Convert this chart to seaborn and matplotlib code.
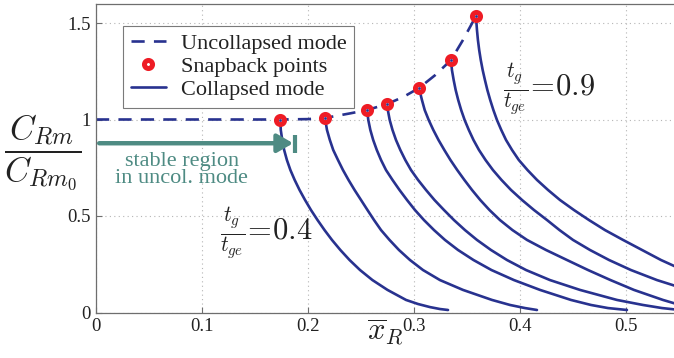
import numpy as np
import pandas as pd
import matplotlib
matplotlib.use("Agg")
import matplotlib.pyplot as plt
import seaborn as sns
from matplotlib.lines import Line2D

# ---------------- data ----------------
# uncollapsed mode (dashed curve)
unc_x = [0.0, 0.10, 0.174, 0.200, 0.216, 0.240, 0.2557, 0.2745, 0.290, 0.3047, 0.320, 0.3349, 0.346, 0.3585]
unc_y = [1.0, 1.0, 1.0, 1.002, 1.008, 1.032, 1.049, 1.080, 1.117, 1.163, 1.230, 1.308, 1.410, 1.536]

# snapback points
snap_x = [0.174, 0.216, 0.2557, 0.2745, 0.3047, 0.3349, 0.3585]
snap_y = [1.0, 1.008, 1.049, 1.080, 1.163, 1.308, 1.536]

# collapsed mode curves (t_g/t_ge from 0.4 to 0.9)
c1_x = [0.174, 0.1743, 0.1757, 0.1775, 0.1801, 0.1834, 0.1874, 0.1920, 0.1972, 0.2028, 0.2090, 0.2156,
        0.2226, 0.2305, 0.2392, 0.2491, 0.2608, 0.2750, 0.2925, 0.3038, 0.3151, 0.3245, 0.3321]
c1_y = [1.0, 0.946, 0.894, 0.842, 0.790, 0.738, 0.687, 0.635, 0.583, 0.531, 0.479, 0.427,
        0.376, 0.324, 0.272, 0.220, 0.168, 0.117, 0.065, 0.044, 0.028, 0.018, 0.013]

c2_x = [0.2160, 0.2179, 0.2206, 0.2238, 0.2283, 0.2330, 0.2382, 0.2439, 0.2500, 0.2561, 0.2623,
        0.2689, 0.2769, 0.2858, 0.2962, 0.3085, 0.3245, 0.3462, 0.3736, 0.3906, 0.4047, 0.4160]
c2_y = [1.008, 0.946, 0.894, 0.842, 0.790, 0.738, 0.687, 0.635, 0.583, 0.531, 0.479,
        0.427, 0.376, 0.324, 0.272, 0.220, 0.168, 0.117, 0.065, 0.039, 0.023, 0.013]

c3_x = [0.2557, 0.2569, 0.2588, 0.2615, 0.2649, 0.2689, 0.2736, 0.2797, 0.2863, 0.2934, 0.3009, 0.3094,
        0.3189, 0.3292, 0.3415, 0.3561, 0.3731, 0.3943, 0.4189, 0.4481, 0.4670, 0.4830, 0.5009]
c3_y = [1.049, 0.997, 0.946, 0.894, 0.842, 0.790, 0.738, 0.687, 0.635, 0.583, 0.531, 0.479,
        0.427, 0.376, 0.324, 0.272, 0.220, 0.168, 0.117, 0.065, 0.039, 0.023, 0.013]

c4_x = [0.2745, 0.2753, 0.2771, 0.2797, 0.2830, 0.2871, 0.2918, 0.2972, 0.3038, 0.3113, 0.3193, 0.3283,
        0.3377, 0.3481, 0.3594, 0.3726, 0.3877, 0.4057, 0.4283, 0.4566, 0.4915, 0.5160, 0.5340, 0.5509]
c4_y = [1.080, 1.049, 0.997, 0.946, 0.894, 0.842, 0.790, 0.738, 0.687, 0.635, 0.583, 0.531,
        0.479, 0.427, 0.376, 0.324, 0.272, 0.220, 0.168, 0.117, 0.065, 0.039, 0.023, 0.013]

c5_x = [0.3047, 0.3075, 0.3101, 0.3139, 0.3182, 0.3231, 0.3286, 0.3344, 0.3408, 0.3475, 0.3547, 0.3625,
        0.3712, 0.3811, 0.3929, 0.4066, 0.4245, 0.4443, 0.4642, 0.4854, 0.5075, 0.5349, 0.5509]
c5_y = [1.163, 1.101, 1.049, 0.997, 0.946, 0.894, 0.842, 0.790, 0.738, 0.687, 0.635, 0.583,
        0.531, 0.479, 0.427, 0.376, 0.324, 0.272, 0.220, 0.168, 0.117, 0.065, 0.039]

c6_x = [0.3349, 0.3358, 0.3374, 0.3393, 0.3417, 0.3445, 0.3478, 0.3517, 0.3561, 0.3613, 0.3675, 0.3745,
        0.3825, 0.3915, 0.4019, 0.4132, 0.4255, 0.4373, 0.4500, 0.4660, 0.4840, 0.5047, 0.5292, 0.5585]
c6_y = [1.308, 1.256, 1.205, 1.153, 1.101, 1.049, 0.997, 0.946, 0.894, 0.842, 0.790, 0.738,
        0.687, 0.635, 0.583, 0.531, 0.479, 0.427, 0.376, 0.324, 0.272, 0.220, 0.168, 0.117]

c7_x = [0.3585, 0.3587, 0.3594, 0.3603, 0.3615, 0.3630, 0.3648, 0.3669, 0.3692, 0.3719, 0.3749, 0.3783,
        0.3823, 0.3868, 0.3925, 0.3989, 0.4071, 0.4160, 0.4264, 0.4377, 0.4509, 0.4651, 0.4802, 0.4972,
        0.5151, 0.5330, 0.5538]
c7_y = [1.536, 1.516, 1.464, 1.412, 1.360, 1.308, 1.256, 1.205, 1.153, 1.101, 1.049, 0.997,
        0.946, 0.894, 0.842, 0.790, 0.738, 0.687, 0.635, 0.583, 0.531, 0.479, 0.427, 0.376,
        0.324, 0.272, 0.220]

col_x = [c1_x, c2_x, c3_x, c4_x, c5_x, c6_x, c7_x]
col_y = [c1_y, c2_y, c3_y, c4_y, c5_y, c6_y, c7_y]

x_ticks = [0, 0.1, 0.2, 0.3, 0.4, 0.5]
x_ticklabels = ["0", "0.1", "0.2", "0.3", "0.4", "0.5"]
y_ticks = [0, 0.5, 1.0, 1.5]
y_ticklabels = ["0", "0.5", "1", "1.5"]

legend_labels = ["Uncollapsed mode", "Snapback points", "Collapsed mode"]

# annotation positions
arrow_y = 0.877
arrow_x0, arrow_x1 = 0.003, 0.186
bar_x, bar_y0, bar_y1 = 0.1877, 0.826, 0.920

# ---------------- style ----------------
sns.set_style("ticks")
plt.rcParams["font.family"] = ["Liberation Serif", "DejaVu Serif"]
plt.rcParams["mathtext.fontset"] = "cm"

blue = "#28328f"
red = "#ee1c25"
teal = "#4e8b83"
grey = "#6e6e6e"
txt = "#222222"

fig = plt.figure(figsize=(6.74, 3.58), dpi=100)
ax = fig.add_axes([96 / 674, 45.5 / 358, 583 / 674, 308.8 / 358])

ax.set_axisbelow(True)
ax.grid(True, color="#b5b5b5", linestyle=(0, (1, 3)), linewidth=0.8)

# collapsed curves
for cx, cy in zip(col_x, col_y):
    sns.lineplot(x=cx, y=cy, ax=ax, color=blue, linewidth=1.9, sort=False,
                 estimator=None, legend=False, zorder=2)

# uncollapsed dashed curve
sns.lineplot(x=unc_x, y=unc_y, ax=ax, color=blue, linewidth=1.9, sort=False,
             estimator=None, legend=False, zorder=2, linestyle=(0, (5, 3.5)))

# snapback points
sns.scatterplot(x=snap_x, y=snap_y, ax=ax, marker="o", s=5.8 ** 2, color="white",
                edgecolor=red, linewidth=3.6, zorder=4, legend=False)
sns.scatterplot(x=snap_x, y=snap_y, ax=ax, marker="o", s=4, color=blue,
                linewidth=0, zorder=5, legend=False)

ax.set_xlim(0, 0.55)
ax.set_ylim(0, 1.6)
ax.set_xticks(x_ticks)
ax.set_xticklabels(x_ticklabels)
ax.set_yticks(y_ticks)
ax.set_yticklabels(y_ticklabels)
ax.tick_params(direction="in", length=4, width=0.8, color=grey, labelsize=13.5,
               labelcolor=txt, pad=4)
for s in ["left", "bottom", "top", "right"]:
    ax.spines[s].set_color(grey)
    ax.spines[s].set_linewidth(0.9)
    ax.spines[s].set_visible(True)

ax.set_xlabel(r"$\overline{x}_R$", fontsize=22, color=txt)
ax.xaxis.set_label_coords(0.496, -0.015)
ax.set_ylabel(r"$\dfrac{C_{Rm}}{C_{Rm_0}}$", fontsize=24.5, color=txt, rotation=0,
              ha="center", va="center")
ax.yaxis.set_label_coords(-0.091, 0.517)

# legend
h1 = Line2D([], [], color=blue, lw=1.9, linestyle=(0, (5, 3.5)))
h2 = Line2D([], [], linestyle="none", marker="o", ms=5.8, mfc="white", mec=red, mew=3.6)
h3 = Line2D([], [], color=blue, lw=1.9)
leg = ax.legend([h1, h2, h3], legend_labels, loc="upper left", bbox_to_anchor=(0.046, 0.928),
                borderaxespad=0, fontsize=16, frameon=True, fancybox=False,
                edgecolor="#7a7a7a", framealpha=1, handlelength=1.6, handletextpad=0.65,
                labelspacing=0.1, borderpad=0.35)
leg.get_frame().set_linewidth(0.8)
for t in leg.get_texts():
    t.set_color(txt)

# stable region arrow
ax.annotate("", xy=(arrow_x1, arrow_y), xytext=(arrow_x0, arrow_y),
            arrowprops=dict(arrowstyle="-|>,head_length=0.95,head_width=0.55",
                            color=teal, lw=3.2, shrinkA=0, shrinkB=0, mutation_scale=10),
            zorder=3)
ax.plot([bar_x, bar_x], [bar_y0, bar_y1], color=teal, lw=3.0, solid_capstyle="butt", zorder=3)
ax.text(0.081, 0.738, "stable region\nin uncol. mode", ha="center", va="center",
        color=teal, fontsize=16, linespacing=0.9)

# t_g/t_ge labels
ax.text(0.117, 0.412, r"$\frac{t_g}{t_{ge}}\!=\!0.4$", fontsize=22, va="center", ha="left", color=txt)
ax.text(0.384, 1.158, r"$\frac{t_g}{t_{ge}}\!=\!0.9$", fontsize=22, va="center", ha="left", color=txt)

fig.savefig("out.png", dpi=100)
